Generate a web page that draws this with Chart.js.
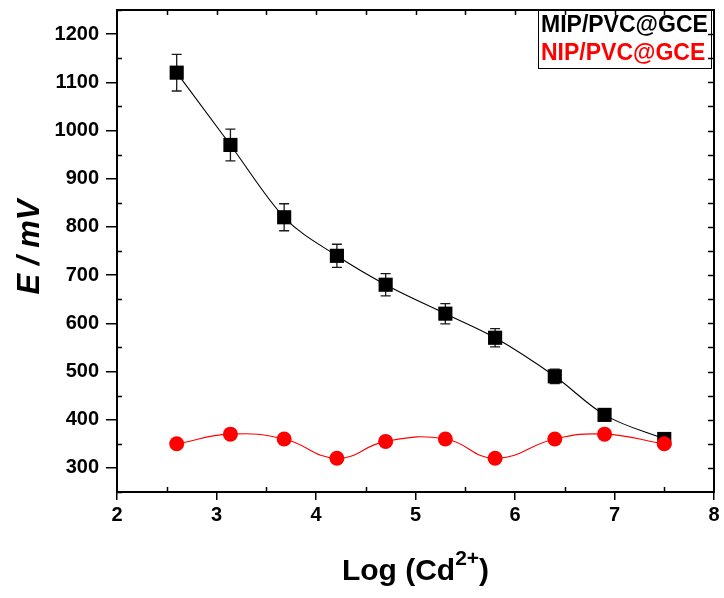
<!DOCTYPE html>
<html>
<head>
<meta charset="utf-8">
<script src="https://cdn.jsdelivr.net/npm/chart.js@4/dist/chart.umd.min.js"></script>
<style>
  html, body { margin: 0; padding: 0; background: #fff; }
  canvas { display: block; }
</style>
</head>
<body>
<canvas id="potentialChart" width="724" height="598"></canvas>
<script>
// Log of Cd2+ concentration for each standard
const logCd = [2.6, 3.14, 3.68, 4.21, 4.7, 5.3, 5.8, 6.4, 6.9, 7.5];
// Potential (mV) measured on the imprinted electrode, with its spread
const mipPotential = [1120, 970, 820, 740, 680, 620, 570, 490, 410, 360];
const mipError = [38, 33, 28, 24, 23, 21, 19, 15, 8, 5];
// Potential (mV) measured on the non-imprinted electrode
const nipPotential = [350, 370, 360, 320, 355, 360, 320, 360, 370, 350];
// Axis tick labels
const xTickValues = [2, 3, 4, 5, 6, 7, 8];
const yTickValues = [300, 400, 500, 600, 700, 800, 900, 1000, 1100, 1200];
const seriesNames = ['MIP/PVC@GCE', 'NIP/PVC@GCE'];
const seriesColors = ['#000000', '#ff0000'];

const FONT = "'Liberation Sans', Arial, Helvetica, sans-serif";

// Vertical error bars with caps, drawn under the markers
const errorBars = {
  id: 'errorBars',
  beforeDatasetsDraw(chart) {
    const ctx = chart.ctx;
    const xs = chart.scales.x, ys = chart.scales.y;
    ctx.save();
    ctx.strokeStyle = '#1a1a1a';
    ctx.lineWidth = 1.3;
    logCd.forEach((x, i) => {
      const px = xs.getPixelForValue(x);
      const yHi = ys.getPixelForValue(mipPotential[i] + mipError[i]);
      const yLo = ys.getPixelForValue(mipPotential[i] - mipError[i]);
      ctx.beginPath();
      ctx.moveTo(px, yHi); ctx.lineTo(px, yLo);
      ctx.moveTo(px - 5, yHi); ctx.lineTo(px + 5, yHi);
      ctx.moveTo(px - 5, yLo); ctx.lineTo(px + 5, yLo);
      ctx.stroke();
    });
    ctx.restore();
  }
};

// Box frame, inward minor ticks, top/right ticks, axis titles and legend
const frameAndLabels = {
  id: 'frameAndLabels',
  afterDraw(chart) {
    const ctx = chart.ctx;
    const { left, right, top, bottom } = chart.chartArea;
    const xs = chart.scales.x, ys = chart.scales.y;
    ctx.save();
    ctx.strokeStyle = '#000';
    ctx.lineWidth = 2;
    ctx.strokeRect(left, top, right - left, bottom - top);

    ctx.lineWidth = 1.5;
    ctx.beginPath();
    for (let v = xs.min; v <= xs.max + 1e-6; v += 0.5) {
      const px = Math.round(xs.getPixelForValue(v)) + 0.5;
      const isMajor = Math.abs(v - Math.round(v)) < 1e-6;
      if (!isMajor) { ctx.moveTo(px, bottom); ctx.lineTo(px, bottom - 5); }
      if (v > xs.min && v < xs.max) { ctx.moveTo(px, top); ctx.lineTo(px, top + 5); }
    }
    for (let v = ys.min; v <= ys.max + 1e-6; v += 50) {
      const py = Math.round(ys.getPixelForValue(v)) + 0.5;
      const isMajor = v % 100 === 0;
      if (!isMajor) { ctx.moveTo(left, py); ctx.lineTo(left + 5, py); }
      if (v > ys.min && v < ys.max) { ctx.moveTo(right, py); ctx.lineTo(right - 6, py); }
    }
    ctx.stroke();

    // y axis title
    ctx.fillStyle = '#000';
    ctx.save();
    ctx.translate(39, (top + bottom) / 2 - 4);
    ctx.rotate(-Math.PI / 2);
    ctx.font = `italic bold 31px ${FONT}`;
    ctx.textAlign = 'center';
    ctx.textBaseline = 'alphabetic';
    ctx.fillText('E / mV', 0, 0);
    ctx.restore();

    // x axis title with superscript charge
    const mainFont = `bold 30px ${FONT}`;
    const supFont = `bold 21px ${FONT}`;
    ctx.textBaseline = 'alphabetic';
    ctx.textAlign = 'left';
    ctx.font = mainFont;
    const wMain = ctx.measureText('Log (Cd').width;
    const wClose = ctx.measureText(')').width;
    ctx.font = supFont;
    const wSup = ctx.measureText('2+').width;
    const total = wMain + wSup + wClose;
    let tx = (left + right) / 2 - total / 2;
    const base = 580;
    ctx.font = mainFont;
    ctx.fillText('Log (Cd', tx, base);
    tx += wMain;
    ctx.font = supFont;
    ctx.fillText('2+', tx, base - 15);
    tx += wSup;
    ctx.font = mainFont;
    ctx.fillText(')', tx, base);

    // legend box
    ctx.lineWidth = 1;
    ctx.strokeStyle = '#000';
    ctx.strokeRect(538.5, 10.5, 173, 58);
    ctx.font = `bold 23px ${FONT}`;
    chart.data.datasets.forEach((ds, i) => {
      ctx.fillStyle = ds.borderColor;
      ctx.fillText(ds.label, 541, 32 + i * 28);
    });
    ctx.restore();
  }
};

const points = (ys) => logCd.map((x, i) => ({ x, y: ys[i] }));

function zeroPadding(scale) {
  scale.paddingTop = 0; scale.paddingBottom = 0;
  scale.paddingLeft = 0; scale.paddingRight = 0;
}

new Chart(document.getElementById('potentialChart'), {
  type: 'line',
  data: {
    datasets: [
      {
        label: seriesNames[0],
        data: points(mipPotential),
        borderColor: seriesColors[0],
        backgroundColor: seriesColors[0],
        borderWidth: 1.1,
        pointStyle: 'rect',
        pointRadius: 10,
        pointBorderWidth: 0,
        cubicInterpolationMode: 'monotone',
        order: 2
      },
      {
        label: seriesNames[1],
        data: points(nipPotential),
        borderColor: seriesColors[1],
        backgroundColor: seriesColors[1],
        borderWidth: 1.1,
        pointStyle: 'circle',
        pointRadius: 7.5,
        pointBorderWidth: 0,
        tension: 0.45,
        order: 1
      }
    ]
  },
  options: {
    responsive: false,
    animation: false,
    devicePixelRatio: 1,
    layout: { padding: { top: 7, right: 9, left: 0, bottom: 0 } },
    plugins: { legend: { display: false }, tooltip: { enabled: false } },
    scales: {
      x: {
        type: 'linear',
        min: 2, max: 8,
        afterBuildTicks(scale) { scale.ticks = xTickValues.map(v => ({ value: v })); },
        afterFit(scale) { scale.height = 106; zeroPadding(scale); },
        border: { display: false },
        grid: { drawOnChartArea: false, drawTicks: true, tickLength: 8, color: '#000', lineWidth: 1.5 },
        ticks: { color: '#000', font: { family: FONT, size: 20, weight: 'bold' }, padding: 3, maxRotation: 0,
                 callback: (v) => String(v) }
      },
      y: {
        type: 'linear',
        min: 250, max: 1250,
        afterBuildTicks(scale) { scale.ticks = yTickValues.map(v => ({ value: v })); },
        afterFit(scale) { scale.width = 117; zeroPadding(scale); },
        border: { display: false },
        grid: { drawOnChartArea: false, drawTicks: true, tickLength: 11, color: '#000', lineWidth: 1.5 },
        ticks: { color: '#000', font: { family: FONT, size: 20, weight: 'bold' }, padding: 7,
                 callback: (v) => String(v) }
      }
    }
  },
  plugins: [errorBars, frameAndLabels]
});
</script>
</body>
</html>
